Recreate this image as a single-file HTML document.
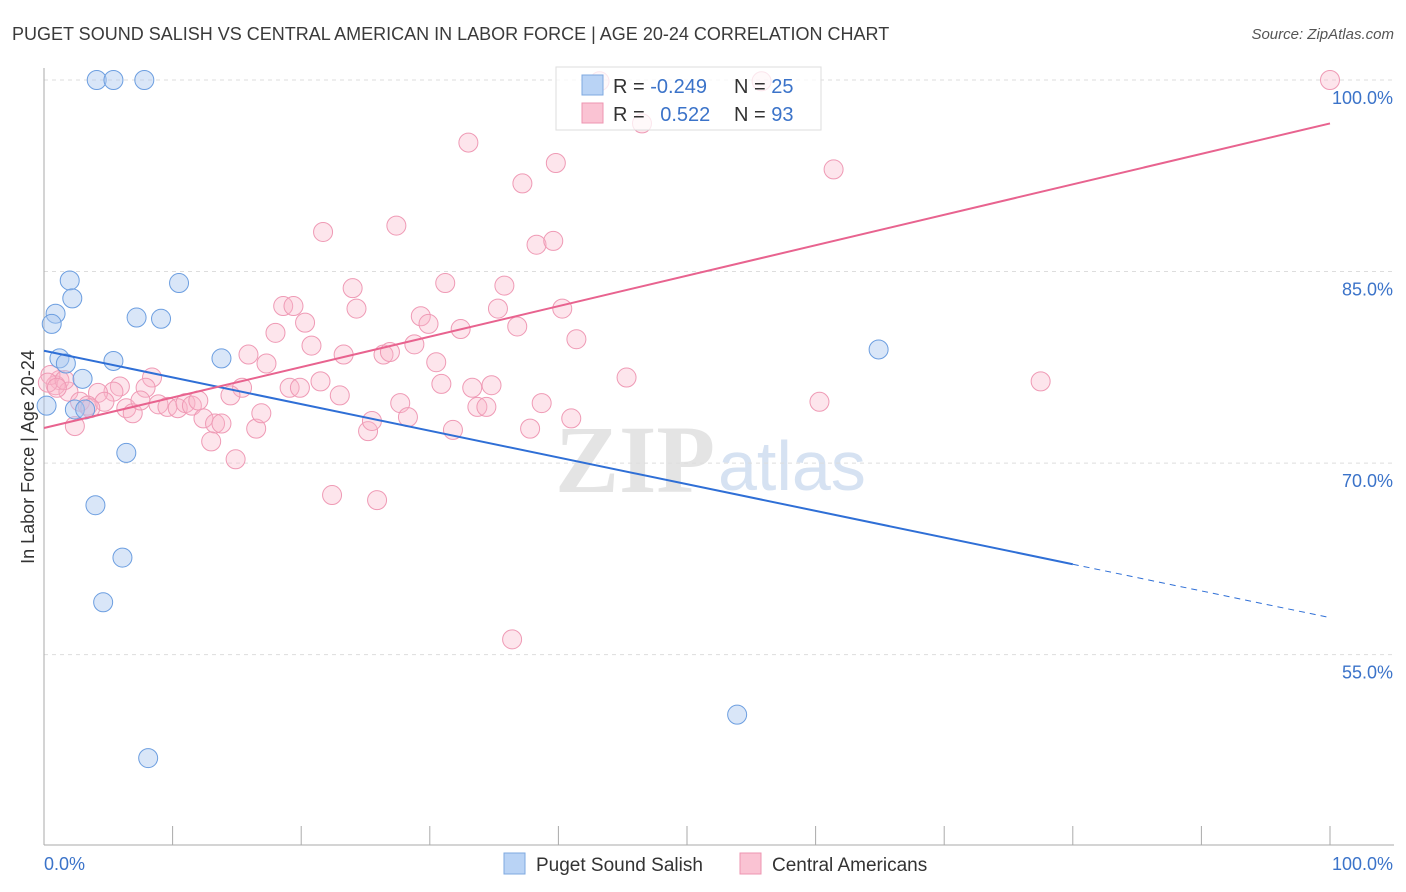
<!DOCTYPE html>
<html><head><meta charset="utf-8">
<style>
body{margin:0;background:#fff;font-family:"Liberation Sans",sans-serif;}
svg{display:block}
</style></head>
<body>
<svg id="chart" width="1406" height="892" xmlns="http://www.w3.org/2000/svg">
<text x="12" y="40" font-size="18" fill="#3a3a3a">PUGET SOUND SALISH VS CENTRAL AMERICAN IN LABOR FORCE | AGE 20-24 CORRELATION CHART</text>
<text x="1394" y="39" font-size="15" fill="#555" font-style="italic" text-anchor="end">Source: ZipAtlas.com</text>
<text x="555" y="492" font-size="96" fill="#e4e4e4" font-family="Liberation Serif" font-weight="bold">ZIP</text>
<text x="718" y="490" font-size="70" fill="#d6e2f2">atlas</text>
<g id="grid"></g><g id="pts"></g><g id="lines"></g>
<text transform="translate(34,457) rotate(-90)" font-size="18" fill="#333" text-anchor="middle">In Labor Force | Age 20-24</text>
<g>
<rect x="556" y="67" width="265" height="63" fill="rgba(255,255,255,0.75)" stroke="#ddd"/>
<rect x="582" y="75" width="21" height="20" fill="#b9d3f5" stroke="#7ea8e0"/>
<rect x="582" y="103" width="21" height="20" fill="#fac3d3" stroke="#ee94b0"/>
<text x="613" y="93" font-size="20" fill="#333">R = <tspan fill="#3b73c9">-0.249</tspan></text>
<text x="734" y="93" font-size="20" fill="#333">N = <tspan fill="#3b73c9">25</tspan></text>
<text x="613" y="121" font-size="20" fill="#333">R = <tspan fill="#3b73c9" dx="10">0.522</tspan></text>
<text x="734" y="121" font-size="20" fill="#333">N = <tspan fill="#3b73c9">93</tspan></text>
</g>
<g>
<rect x="504" y="853" width="21" height="21" fill="#b9d3f5" stroke="#7ea8e0"/>
<text x="536" y="871" font-size="19" fill="#333">Puget Sound Salish</text>
<rect x="740" y="853" width="21" height="21" fill="#fac3d3" stroke="#ee94b0"/>
<text x="772" y="871" font-size="19" fill="#333">Central Americans</text>
</g>
</svg>
<script>
const blueX=[4.1,5.4,7.8,2.0,2.2,10.5,0.9,0.6,7.2,9.1,1.2,1.7,5.4,13.8,64.9,3.0,2.4,3.2,0.2,6.4,4.0,6.1,4.6,53.9,8.1];
const blueY=[100,100,100,84.3,82.9,84.1,81.7,80.9,81.4,81.3,78.2,77.8,78.0,78.2,78.9,76.6,74.2,74.2,74.5,70.8,66.7,62.6,59.1,50.3,46.9];
const pinkX=[43.2,55.8,100,46.5,33.0,39.8,37.2,61.4,21.7,27.4,38.3,39.6,31.2,35.8,24.0,18.6,19.4,24.3,35.3,40.3,20.3,29.3,29.9,32.4,36.8,18.0,41.4,20.8,28.8,15.9,23.3,26.4,26.9,30.5,17.3,45.3,77.5,21.5,30.9,33.3,34.8,19.1,19.9,15.4,14.5,23.0,8.4,7.9,5.9,5.4,4.2,1.2,0.9,1.9,2.8,3.4,4.7,6.4,6.9,7.5,8.9,9.6,10.4,11.0,11.5,12.0,12.4,13.3,13.8,13.0,14.9,16.5,16.9,25.2,25.5,27.7,28.3,31.8,33.7,34.4,37.8,38.7,41.0,60.3,22.4,25.9,36.4,2.4,0.5,0.3,1.6,3.6,1.0];
const pinkY=[99.9,99.9,100,96.6,95.1,93.5,91.9,93.0,88.1,88.6,87.1,87.4,84.1,83.9,83.7,82.3,82.3,82.1,82.1,82.1,81.0,81.5,80.9,80.5,80.7,80.2,79.7,79.2,79.3,78.5,78.5,78.5,78.7,77.9,77.8,76.7,76.4,76.4,76.2,75.9,76.1,75.9,75.9,75.9,75.3,75.3,76.7,75.9,76.0,75.6,75.5,76.5,76.1,75.6,74.8,74.5,74.8,74.3,73.9,74.9,74.6,74.4,74.3,74.7,74.5,74.9,73.5,73.1,73.1,71.7,70.3,72.7,73.9,72.5,73.3,74.7,73.6,72.6,74.4,74.4,72.7,74.7,73.5,74.8,67.5,67.1,56.2,72.9,76.9,76.3,76.5,74.3,75.9];
const blueLine=[78.8,57.9]; // y at x=0, x=100
const blueSolidEnd=[80];
const pinkLine=[72.75,96.6];
const yTicks=[100,85,70,55];
const yTickLabels=["100.0%","85.0%","70.0%","55.0%"];
const xTicks=[0,10,20,30,40,50,60,70,80,90,100];
const NS='http://www.w3.org/2000/svg';
const X=v=>44+v*12.86, Y=v=>80+(100-v)*12.77;
function mk(t,a,p){const e=document.createElementNS(NS,t);for(const k in a)e.setAttribute(k,a[k]);p.appendChild(e);return e;}
const grid=document.getElementById('grid');
yTicks.forEach((t,i)=>{
 const l=mk('line',{x1:44,x2:1394,y1:Y(t),y2:Y(t),stroke:'#ddd','stroke-dasharray':'4,4'},grid);
 
 
 const tx=mk('text',{x:1393,y:Y(t)+24,'font-size':18,fill:'#3b73c9','text-anchor':'end'},grid);
 tx.textContent=yTickLabels[i];
 
 
});
const ax=mk('line',{x1:44,x2:44,y1:68,y2:845,stroke:'#aaa'},grid);


const bx=mk('line',{x1:44,x2:1394,y1:845,y2:845,stroke:'#aaa'},grid);


xTicks.forEach(t=>{const l=mk('line',{x1:X(t),x2:X(t),y1:826,y2:845,stroke:'#aaa'},grid);
 
 });
const xl0=mk('text',{x:44,y:870,'font-size':18,fill:'#3b73c9'},grid);xl0.textContent='0.0%';


const xl1=mk('text',{x:1393,y:870,'font-size':18,fill:'#3b73c9','text-anchor':'end'},grid);xl1.textContent='100.0%';


const pts=document.getElementById('pts');
pinkX.forEach((x,i)=>{const c=mk('circle',{cx:X(x),cy:Y(pinkY[i]),r:9.5,fill:'rgba(248,180,200,0.35)',stroke:'#ef9ab5','stroke-width':1},pts);
 
 });
blueX.forEach((x,i)=>{const c=mk('circle',{cx:X(x),cy:Y(blueY[i]),r:9.5,fill:'rgba(170,200,240,0.45)',stroke:'#6c9ee0','stroke-width':1},pts);
 
 });
const lines=document.getElementById('lines');
const by=x=>blueLine[0]+(blueLine[1]-blueLine[0])*x/100;
const b1=mk('line',{x1:X(0),y1:Y(by(0)),x2:X(blueSolidEnd[0]),y2:Y(by(blueSolidEnd[0])),stroke:'#2f6fd6','stroke-width':2},lines);


const b2=mk('line',{x1:X(blueSolidEnd[0]),y1:Y(by(blueSolidEnd[0])),x2:X(100),y2:Y(by(100)),stroke:'#2f6fd6','stroke-width':1,'stroke-dasharray':'6,5'},lines);


const p1=mk('line',{x1:X(0),y1:Y(pinkLine[0]),x2:X(100),y2:Y(pinkLine[1]),stroke:'#e8638f','stroke-width':2},lines);


</script>
</body></html>
